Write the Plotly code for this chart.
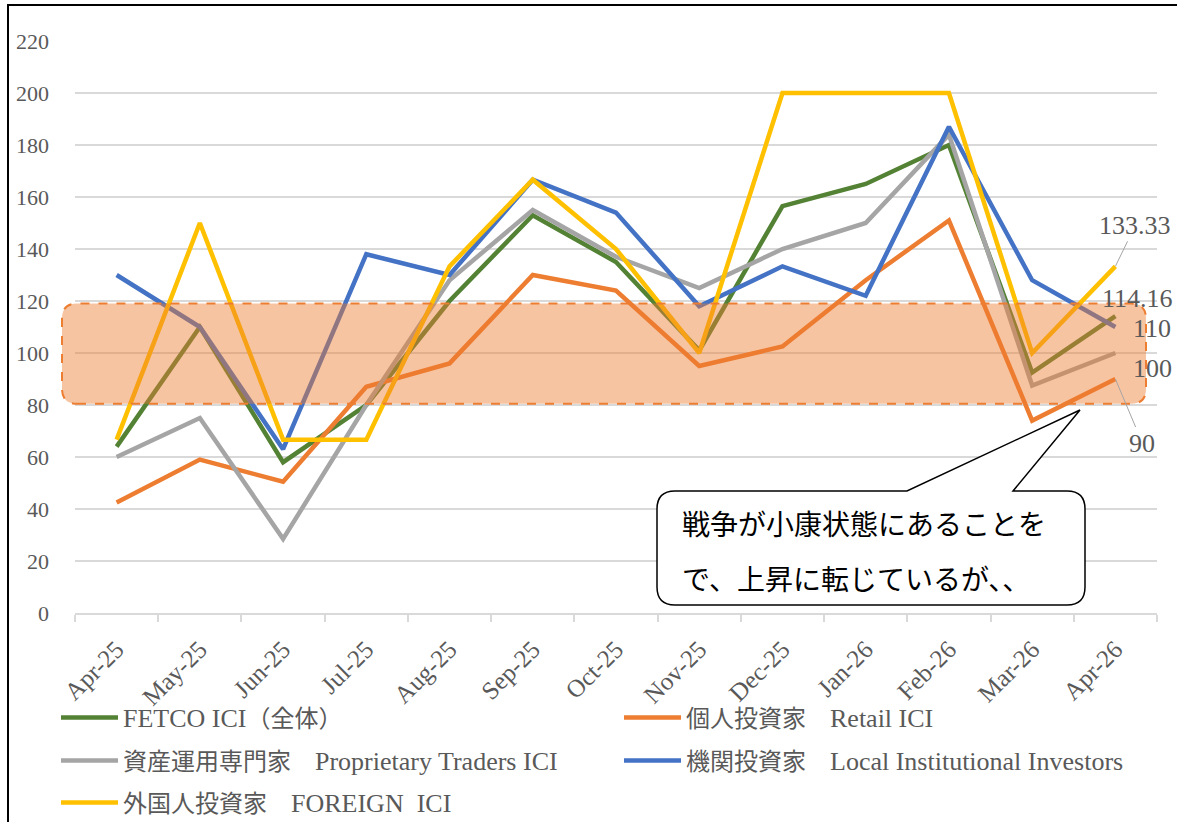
import plotly.graph_objects as go

months = ["Apr-25", "May-25", "Jun-25", "Jul-25", "Aug-25", "Sep-25", "Oct-25",
          "Nov-25", "Dec-25", "Jan-26", "Feb-26", "Mar-26", "Apr-26"]
fetco = [64, 110, 58, 80, 120, 153, 135, 101, 156.5, 165, 180, 92.5, 114.16]
retail = [42.5, 59, 50.5, 87, 96, 130, 124, 95, 102.5, 128, 151, 74, 90]
prop = [60, 75, 28.5, 80, 128, 155, 137, 125, 140, 150, 184, 87.5, 100]
inst = [130, 110, 63, 138, 130, 166.67, 154, 118, 133.33, 122, 187, 128, 110]
foreign = [66.67, 150, 66.67, 66.67, 133.33, 166.67, 140, 100, 200, 200, 200, 100, 133.33]


def lat(s):
    return '<span style="font-size:26px">' + s + '</span>'


names = [lat("FETCO ICI") + "（全体）",
         "個人投資家　" + lat("Retail ICI"),
         "資産運用専門家　" + lat("Proprietary Traders ICI"),
         "機関投資家　" + lat("Local Institutional Investors"),
         "外国人投資家　" + lat("FOREIGN\u00a0 ICI")]
colors = ["#548235", "#ED7D31", "#A5A5A5", "#4472C4", "#FFC000"]
series = [fetco, retail, prop, inst, foreign]

band_lo, band_hi = 80.5, 119
callout_lines = ["戦争が小康状態にあることを", "で、上昇に転じているが、、"]

FONT = "Liberation Serif, Noto Sans CJK JP, serif"
GREY_TXT = "#595959"

# plot area in pixels
L, R, T, B = 75, 20, 41, 209
W, H = 1177, 822
PW = W - L - R
PH = H - T - B


def px2paper_x(px):
    return (px - L) / PW


def px2paper_y(py):
    return (H - B - py) / PH


fig = go.Figure()
legend_ids = ["legend", "legend2", "legend3", "legend4", "legend5"]
for name, col, ys, lid in zip(names, colors, series, legend_ids):
    fig.add_trace(go.Scatter(x=months, y=ys, mode="lines", name=name,
                             line=dict(color=col, width=4.5), legend=lid))

shapes = []
# rounded dashed band
x0, x1 = px2paper_x(62), px2paper_x(1146)
rx = 15 / PW
ry = 15 / 2.6
p = (f"M{x0+rx},{band_lo} L{x1-rx},{band_lo} Q{x1},{band_lo} {x1},{band_lo+ry} "
     f"L{x1},{band_hi-ry} Q{x1},{band_hi} {x1-rx},{band_hi} L{x0+rx},{band_hi} "
     f"Q{x0},{band_hi} {x0},{band_hi-ry} L{x0},{band_lo+ry} Q{x0},{band_lo} {x0+rx},{band_lo} Z")
shapes.append(dict(type="path", path=p, xref="paper", yref="y", layer="above",
                   fillcolor="rgba(237,125,49,0.45)",
                   line=dict(color="#ED7D31", width=2, dash="dash")))

# callout
cx0, cx1 = px2paper_x(657), px2paper_x(1085)
cyt, cyb = (613 - 491) / 2.6, (613 - 605) / 2.6
tipx, tipy = px2paper_x(1080), (613 - 410) / 2.6
b1, b2 = px2paper_x(907), px2paper_x(1013)
crx = 18 / PW
cry = 18 / 2.6
cp = (f"M{cx0+crx},{cyt} L{b1},{cyt} L{tipx},{tipy} L{b2},{cyt} L{cx1-crx},{cyt} "
      f"Q{cx1},{cyt} {cx1},{cyt-cry} L{cx1},{cyb+cry} Q{cx1},{cyb} {cx1-crx},{cyb} "
      f"L{cx0+crx},{cyb} Q{cx0},{cyb} {cx0},{cyb+cry} L{cx0},{cyt-cry} Q{cx0},{cyt} {cx0+crx},{cyt} Z")
shapes.append(dict(type="path", path=cp, xref="paper", yref="y", layer="above",
                   fillcolor="white", line=dict(color="black", width=1.5)))

# outer frame (left and top edges only are visible)
fx, fy = px2paper_x(8), px2paper_y(5)
fr, fb = px2paper_x(1177), px2paper_y(822)
shapes.append(dict(type="path", xref="paper", yref="paper",
                   path=f"M{fx},{fb} L{fx},{fy} L{fr},{fy}",
                   line=dict(color="black", width=2), layer="above"))

annotations = []
# end labels
lab = [(foreign[-1], "133.33", 20, -41, True),
       (fetco[-1], "114.16", 22, -18, False),
       (inst[-1], "110", 37, 1, False),
       (prop[-1], "100", 37, 15, False),
       (retail[-1], "90", 27, 64, True)]
for yv, txt, ax, ay, arrow in lab:
    if arrow:
        annotations.append(dict(x=12, y=yv, xref="x", yref="y", text=txt,
                                showarrow=True, ax=ax, ay=ay, arrowhead=0,
                                arrowwidth=1, arrowcolor="#A5A5A5",
                                font=dict(family=FONT, size=26, color=GREY_TXT)))
    else:
        annotations.append(dict(x=12, y=yv, xref="x", yref="y", text=txt,
                                showarrow=False, xshift=ax, yshift=-ay,
                                font=dict(family=FONT, size=26, color=GREY_TXT)))
for i, t in enumerate(callout_lines):
    annotations.append(dict(x=px2paper_x(680), y=(613 - [523, 578][i]) / 2.6,
                            xref="paper", yref="y", text=t, showarrow=False,
                            xanchor="left", yanchor="middle",
                            font=dict(family="Noto Sans CJK JP", size=28, color="black")))

# legends, one per entry
leg_pos = [(56, 718), (619, 718), (56, 761), (619, 761), (56, 803)]
layout_legends = {}
for lid, (lx, ly) in zip(legend_ids, leg_pos):
    layout_legends[lid] = dict(x=lx / W, y=1 - ly / H, xref="container", yref="container",
                               xanchor="left", yanchor="middle", orientation="h",
                               itemwidth=57, bgcolor="rgba(0,0,0,0)",
                               font=dict(family=FONT, size=24, color=GREY_TXT))

fig.update_layout(
    width=W, height=H,
    margin=dict(l=L, r=R, t=T, b=B, autoexpand=False),
    paper_bgcolor="white", plot_bgcolor="white",
    showlegend=True,
    shapes=shapes, annotations=annotations,
    xaxis=dict(type="category", range=[-0.5, 12.5], tickangle=-45, showline=True,
               automargin=False,
               linecolor="#D9D9D9", linewidth=1.5, ticks="outside", tickson="boundaries",
               ticklen=7, tickcolor="#D9D9D9", tickwidth=1.5, showgrid=False,
               ticklabelstandoff=10,
               tickfont=dict(family=FONT, size=25, color=GREY_TXT)),
    yaxis=dict(range=[0, 220], dtick=20, showgrid=True, gridcolor="#D9D9D9",
               automargin=False,
               gridwidth=1.5, zeroline=False, showline=False, ticklabelstandoff=25,
               tickfont=dict(family=FONT, size=22, color=GREY_TXT)),
    **layout_legends,
)

fig.write_html("out.html", config={"displayModeBar": False},
               post_script="document.body.style.margin='0px';")
